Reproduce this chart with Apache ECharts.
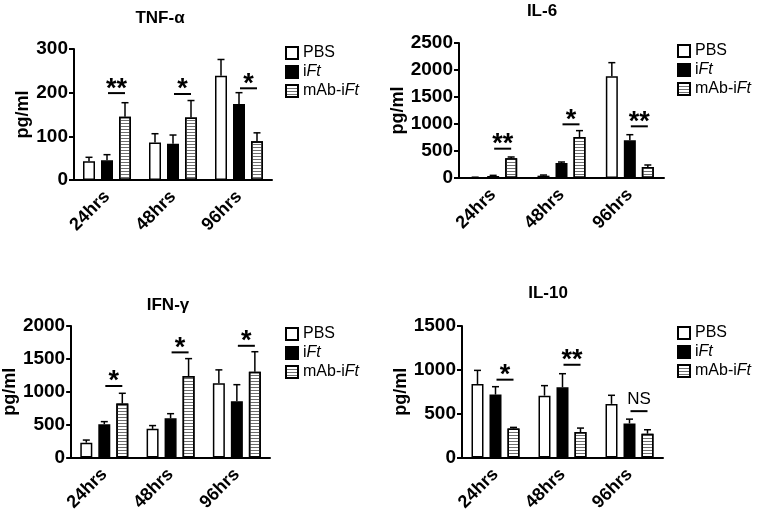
<!DOCTYPE html>
<html>
<head>
<meta charset="utf-8">
<script src="https://cdn.jsdelivr.net/npm/echarts@6/dist/echarts.min.js"></script>
<style>
html,body{margin:0;padding:0;background:#fff;}
#chart{width:762px;height:514px;}
</style>
</head>
<body>
<div id="chart"></div>
<script>
// ---------- data ----------
const categories = ['24hrs', '48hrs', '96hrs'];
const seriesNames = ['PBS', 'iFt', 'mAb-iFt'];

const tnfTitle = 'TNF-α';
const tnfPBS = [43, 86, 239];
const tnfPBSErr = [9, 20, 37];
const tnfIFT = [45, 83, 174];
const tnfIFTErr = [13, 20, 26];
const tnfMAB = [145, 143, 89];
const tnfMABErr = [32, 39, 19];
const tnfSig = [199, 197, 210];
const tnfSigLabel = ['**', '*', '*'];
const tnfTicks = [0, 100, 200, 300];

const il6Title = 'IL-6';
const il6PBS = [12, 43, 1883];
const il6PBSErr = [3, 12, 253];
const il6IFT = [37, 278, 698];
const il6IFTErr = [12, 18, 104];
const il6MAB = [364, 759, 204];
const il6MABErr = [25, 118, 37];
const il6Sig = [543, 994, 957];
const il6SigLabel = ['**', '*', '**'];
const il6Ticks = [0, 500, 1000, 1500, 2000, 2500];

const ifnTitle = 'IFN-γ';
const ifnPBS = [226, 436, 1128];
const ifnPBSErr = [40, 50, 205];
const ifnIFT = [506, 596, 857];
const ifnIFTErr = [40, 71, 251];
const ifnMAB = [822, 1238, 1303];
const ifnMABErr = [155, 266, 306];
const ifnSig = [1088, 1599, 1699];
const ifnSigLabel = ['*', '*', '*'];
const ifnTicks = [0, 500, 1000, 1500, 2000];

const il10Title = 'IL-10';
const il10PBS = [839, 706, 612];
const il10PBSErr = [155, 114, 98];
const il10IFT = [718, 801, 389];
const il10IFTErr = [90, 155, 49];
const il10MAB = [332, 291, 272];
const il10MABErr = [12, 45, 45];
const il10Sig = [888, 1058, 529];
const il10SigLabel = ['*', '**', 'NS'];
const il10Ticks = [0, 500, 1000, 1500];

// ---------- layout / style ----------
const FONT = '"Liberation Sans", Arial, Helvetica, sans-serif';
const BAR_W = 12;
const BAR_GAP = 0.5;
const CAP = 3.5;

const panels = [
  {title: tnfTitle, vals: [tnfPBS, tnfIFT, tnfMAB], errs: [tnfPBSErr, tnfIFTErr, tnfMABErr], sig: tnfSig, sigLabel: tnfSigLabel, ticks: tnfTicks,
   grid: {left: 74, top: 49, width: 198, height: 131}, titlePos: {x: 155, y: 5}, legend: {left: 285, top: 45}, nameGap: 40},
  {title: il6Title, vals: [il6PBS, il6IFT, il6MAB], errs: [il6PBSErr, il6IFTErr, il6MABErr], sig: il6Sig, sigLabel: il6SigLabel, ticks: il6Ticks,
   grid: {left: 459, top: 43, width: 205, height: 135}, titlePos: {x: 537, y: -2}, legend: {left: 677, top: 43}, nameGap: 52},
  {title: ifnTitle, vals: [ifnPBS, ifnIFT, ifnMAB], errs: [ifnPBSErr, ifnIFTErr, ifnMABErr], sig: ifnSig, sigLabel: ifnSigLabel, ticks: ifnTicks,
   grid: {left: 69, top: 326, width: 201, height: 133}, titlePos: {x: 163, y: 292}, legend: {left: 285, top: 326}, nameGap: 49},
  {title: il10Title, vals: [il10PBS, il10IFT, il10MAB], errs: [il10PBSErr, il10IFTErr, il10MABErr], sig: il10Sig, sigLabel: il10SigLabel, ticks: il10Ticks,
   grid: {left: 462, top: 326, width: 201, height: 132}, titlePos: {x: 543, y: 280}, legend: {left: 677, top: 325}, nameGap: 47}
];

const barStyles = [
  {color: '#ffffff', borderColor: '#000', borderWidth: 1.5},
  {color: '#000000', borderColor: '#000', borderWidth: 1.5},
  {color: '#ffffff', borderColor: '#000', borderWidth: 1.5,
   decal: {symbol: 'rect', symbolSize: 1, dashArrayX: [1, 0], dashArrayY: [1, 2], rotation: 0, color: '#6e6e6e'}}
];

function barOffset(i) {
  return (i - 1) * BAR_W * (1 + BAR_GAP);
}

function errRender(params, api) {
  const cat = api.value(0), mean = api.value(1), err = api.value(2), s = api.value(3);
  const base = api.coord([cat, mean]);
  const tip = api.coord([cat, mean + err]);
  const x = base[0] + barOffset(s);
  return {
    type: 'group',
    children: [
      {type: 'line', shape: {x1: x, y1: base[1], x2: x, y2: tip[1]}, style: {stroke: '#000', lineWidth: 1.5}},
      {type: 'line', shape: {x1: x - CAP, y1: tip[1], x2: x + CAP, y2: tip[1]}, style: {stroke: '#000', lineWidth: 1.5}}
    ]
  };
}

function makeSigRender(labels) {
  return function (params, api) {
    const cat = api.value(0), y = api.value(1);
    const label = labels[params.dataIndex];
    const p = api.coord([cat, y]);
    const x1 = p[0] + barOffset(1) + 1;
    const x2 = p[0] + barOffset(2);
    const isNS = label === 'NS';
    return {
      type: 'group',
      children: [
        {type: 'line', shape: {x1: x1, y1: p[1], x2: x2, y2: p[1]}, style: {stroke: '#000', lineWidth: 2}},
        {type: 'text', x: (x1 + x2) / 2, y: isNS ? p[1] - 12 : p[1] - 4,
         style: {text: label, fill: '#000', font: (isNS ? 'normal 17px ' : 'bold 27px ') + FONT, align: 'center', verticalAlign: 'middle'}}
      ]
    };
  };
}

const option = {
  animation: false,
  backgroundColor: '#fff',
  title: [], legend: [], grid: [], xAxis: [], yAxis: [], series: []
};

panels.forEach((pn, k) => {
  option.title.push({
    text: pn.title, left: pn.titlePos.x, top: pn.titlePos.y, textAlign: 'center',
    textStyle: {fontFamily: FONT, fontSize: 17, fontWeight: 'bold', color: '#000'}
  });
  option.legend.push({
    data: seriesNames, orient: 'vertical', left: pn.legend.left, top: pn.legend.top,
    icon: 'rect', itemWidth: 12, itemHeight: 12, itemGap: 3, padding: 0,
    selectedMode: false,
    formatter: function (name) {
      if (name === 'iFt') return '{n|i}{it|Ft}';
      if (name === 'mAb-iFt') return '{n|mAb-i}{it|Ft}';
      return '{n|' + name + '}';
    },
    textStyle: {
      fontFamily: FONT, fontSize: 16, color: '#000',
      rich: {
        n: {fontFamily: FONT, fontSize: 16, color: '#000'},
        it: {fontFamily: FONT, fontSize: 16, color: '#000', fontStyle: 'italic'}
      }
    }
  });
  option.grid.push(Object.assign({containLabel: false}, pn.grid));
  option.xAxis.push({
    type: 'category', gridIndex: k, data: categories,
    axisLine: {lineStyle: {color: '#000', width: 2}},
    axisTick: {alignWithLabel: true, length: 5, lineStyle: {color: '#000', width: 2}},
    axisLabel: {rotate: 45, margin: 14, color: '#000', fontFamily: FONT, fontSize: 18, fontWeight: 'bold'}
  });
  const tk = pn.ticks;
  option.yAxis.push({
    type: 'value', gridIndex: k, min: tk[0], max: tk[tk.length - 1], interval: tk[1] - tk[0],
    name: 'pg/ml', nameLocation: 'middle', nameGap: pn.nameGap,
    nameTextStyle: {fontFamily: FONT, fontSize: 18, fontWeight: 'bold', color: '#000'},
    splitLine: {show: false},
    axisLine: {show: true, lineStyle: {color: '#000', width: 2}},
    axisTick: {show: true, length: 5, lineStyle: {color: '#000', width: 2}},
    axisLabel: {margin: 6, color: '#000', fontFamily: FONT, fontSize: 19, fontWeight: 'bold',
      formatter: function (v) { return String(v); }}
  });
  pn.vals.forEach((arr, i) => {
    option.series.push({
      type: 'bar', name: seriesNames[i], xAxisIndex: k, yAxisIndex: k,
      data: arr, barWidth: BAR_W, barGap: (BAR_GAP * 100) + '%',
      itemStyle: barStyles[i], emphasis: {disabled: true}, z: 2
    });
  });
  const errData = [];
  pn.vals.forEach((arr, i) => arr.forEach((v, c) => errData.push([c, v, pn.errs[i][c], i])));
  option.series.push({
    type: 'custom', xAxisIndex: k, yAxisIndex: k, renderItem: errRender,
    data: errData, z: 3, silent: true
  });
  option.series.push({
    type: 'custom', xAxisIndex: k, yAxisIndex: k, renderItem: makeSigRender(pn.sigLabel),
    data: pn.sig.map((v, c) => [c, v]), z: 4, silent: true
  });
});

const chart = echarts.init(document.getElementById('chart'), null, {renderer: 'canvas'});
chart.setOption(option);
</script>
</body>
</html>
